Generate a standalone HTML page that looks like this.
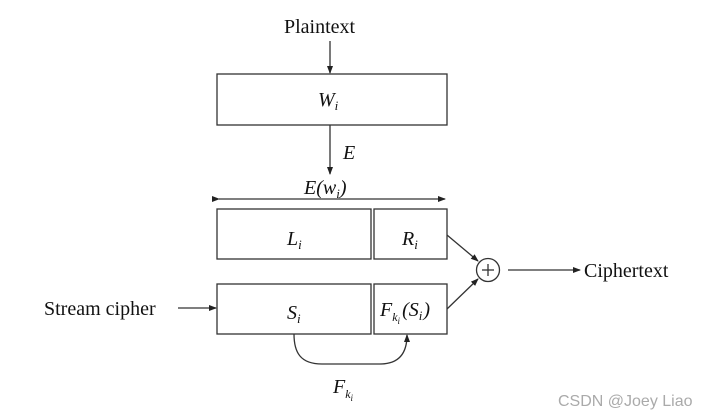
<!DOCTYPE html>
<html><head><meta charset="utf-8"><style>
html,body{margin:0;padding:0;background:#fff;width:725px;height:420px;overflow:hidden}
text{font-family:"Liberation Serif",serif;fill:#111}
.i{font-style:italic}
</style></head><body>
<svg width="725" height="420" viewBox="0 0 725 420" xmlns="http://www.w3.org/2000/svg">
<defs>
<marker id="a" markerWidth="8" markerHeight="6" refX="7" refY="3" orient="auto" markerUnits="userSpaceOnUse">
<path d="M0,0 L8,3 L0,6 Z" fill="#222"/></marker>
</defs>
<g stroke="#333" stroke-width="1.3" fill="none">
<line x1="330" y1="41" x2="330" y2="73" marker-end="url(#a)"/>
<rect x="217" y="74" width="230" height="51"/>
<line x1="330" y1="125" x2="330" y2="174" marker-end="url(#a)"/>
<line x1="219" y1="199" x2="445" y2="199" marker-end="url(#a)" marker-start="url(#a)"/>
<rect x="217" y="209" width="154" height="50"/>
<rect x="374" y="209" width="73" height="50"/>
<rect x="217" y="284" width="154" height="50"/>
<rect x="374" y="284" width="73" height="50"/>
<line x1="178" y1="308" x2="216" y2="308" marker-end="url(#a)"/>
<line x1="447" y1="235" x2="478" y2="261" marker-end="url(#a)"/>
<line x1="447" y1="309" x2="478" y2="279" marker-end="url(#a)"/>
<circle cx="488" cy="270" r="11.5"/>
<line x1="482" y1="270" x2="494" y2="270"/><line x1="488" y1="264" x2="488" y2="276"/>
<line x1="508" y1="270" x2="580" y2="270" marker-end="url(#a)"/>
<path d="M294,334 C294,352 300,364 322,364 L380,364 C400,364 407,352 407,335" marker-end="url(#a)"/>
</g>
<marker/>
<text x="284" y="33" font-size="20">Plaintext</text>
<text x="318" y="106" font-size="20" class="i">W<tspan font-size="13" dy="4">i</tspan></text>
<text x="343" y="159" font-size="20" class="i">E</text>
<text x="304" y="194" font-size="20" class="i">E(w<tspan font-size="13" dy="4">i</tspan><tspan dy="-4">)</tspan></text>
<text x="287" y="245" font-size="20" class="i">L<tspan font-size="13" dy="4">i</tspan></text>
<text x="402" y="245" font-size="20" class="i">R<tspan font-size="13" dy="4">i</tspan></text>
<text x="287" y="319" font-size="20" class="i">S<tspan font-size="13" dy="4">i</tspan></text>
<text x="380" y="316" font-size="20" class="i">F<tspan font-size="12" dy="5">k</tspan><tspan font-size="9" dy="3">i</tspan><tspan dy="-8" dx="2">(S</tspan><tspan font-size="13" dy="4">i</tspan><tspan dy="-4" dx="1">)</tspan></text>
<text x="44" y="315" font-size="20">Stream cipher</text>
<text x="584" y="277" font-size="20">Ciphertext</text>
<text x="333" y="393" font-size="20" class="i">F<tspan font-size="12" dy="5">k</tspan><tspan font-size="9" dy="3">i</tspan></text>
<text x="558" y="406" font-size="16" style="font-family:'Liberation Sans',sans-serif;fill:#aaa">CSDN @Joey Liao</text>
</svg>
</body></html>
